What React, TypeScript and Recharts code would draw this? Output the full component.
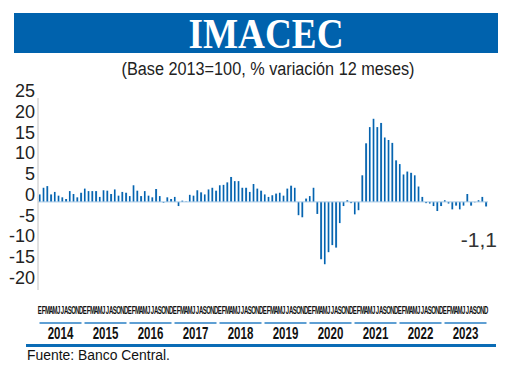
import React from 'react';
import { BarChart, Bar, XAxis, YAxis, ReferenceLine } from 'recharts';

const MONTHS = ['E', 'F', 'M', 'A', 'M', 'J', 'J', 'A', 'S', 'O', 'N', 'D'];
const YEARS = [2014, 2015, 2016, 2017, 2018, 2019, 2020, 2021, 2022, 2023];

// % variación 12 meses
const v2014 = [1.8, 3.4, 3.8, 1.8, 2.4, 1.5, 1.1, 0.7, 2.6, 1.9, 1.1, 2.2];
const v2015 = [3.2, 2.6, 2.6, 2.6, 1.2, 2.8, 2.7, 1.9, 3.0, 1.5, 2.4, 2.2];
const v2016 = [1.4, 4.0, 2.7, 1.4, 2.6, 1.5, 1.1, 3.1, 1.4, -0.2, 1.1, 0.7];
const v2017 = [1.2, -1.0, 0.3, 0.1, 1.7, 1.5, 2.8, 2.3, 1.8, 3.0, 3.4, 2.7];
const v2018 = [4.0, 4.1, 4.7, 6.0, 5.0, 5.0, 3.4, 3.4, 2.4, 4.3, 3.2, 2.7];
const v2019 = [1.8, 1.2, 1.6, 2.0, 2.2, 1.5, 3.2, 3.9, 3.4, -3.2, -3.7, 0.8];
const v2020 = [1.4, 3.4, -2.9, -13.8, -15.0, -12.1, -10.4, -11.0, -5.1, -1.0, 0.4, -0.3];
const v2021 = [-3.0, -2.0, 6.4, 14.1, 18.0, 20.0, 18.0, 19.0, 15.5, 14.9, 14.2, 10.0];
const v2022 = [9.1, 6.6, 7.3, 7.0, 6.4, 3.7, 1.2, -0.3, -0.4, -1.0, -2.2, -1.0];
const v2023 = [0.4, -0.4, -1.8, -0.9, -1.8, -0.9, 1.9, -0.9, -0.1, 0.4, 1.2, -1.1];

const SERIES = [v2014, v2015, v2016, v2017, v2018, v2019, v2020, v2021, v2022, v2023];
const Y_TICKS = [25, 20, 15, 10, 5, 0, -5, -10, -15, -20];

const data = YEARS.flatMap((yr, yi) =>
  SERIES[yi].map((v, mi) => ({ key: `${yr}-${mi}`, month: MONTHS[mi], year: yr, v }))
);

const W = 520;
const H = 366;
const PLOT_LEFT = 38;
const PLOT_RIGHT = 32;
const BAND = (W - PLOT_LEFT - PLOT_RIGHT) / data.length;

const last = data[data.length - 1].v;
const lastLabel = last.toFixed(1).replace('.', ',');

const YTick = (props: any) => {
  const { y, payload } = props;
  return (
    <text x={35} y={y - 1} textAnchor="end" fontSize={18} fill="#222"
      fontFamily="'Liberation Sans', Arial, sans-serif">
      {payload.value}
    </text>
  );
};

const MonthTick = (props: any) => {
  const { x, y, payload } = props;
  const idx = props.index ?? payload.index;
  const d = data[idx];
  if (!d) return null;
  const mi = idx % 12;
  return (
    <g>
      <text transform={`translate(${x},${y + 16}) scale(0.6,1)`} textAnchor="middle"
        fontSize={10} fontWeight="bold" fill="#111"
        fontFamily="'Liberation Sans Narrow', 'Liberation Sans', sans-serif">
        {d.month}
      </text>
      {mi === 0 && (
        <g>
          <line x1={x - BAND / 2 + 1.5} x2={x - BAND / 2 + 12 * BAND - 1.5}
            y1={y + 25} y2={y + 25} stroke="#2a7fc4" strokeWidth={1.5} />
          <text transform={`translate(${x + 5.5 * BAND},${y + 41}) scale(0.72,1)`}
            textAnchor="middle" fontSize={16} fontWeight="bold" fill="#111"
            fontFamily="'Liberation Sans Narrow', 'Liberation Sans', sans-serif">
            {d.year}
          </text>
        </g>
      )}
    </g>
  );
};

export default function App() {
  return (
    <div style={{ position: 'absolute', left: 0, top: 0, width: W, height: H, background: '#fff' }}>
      <BarChart width={W} height={H} data={data}
        margin={{ top: 98, right: PLOT_RIGHT, bottom: 16, left: 0 }}
        barCategoryGap="25%">
        <defs>
          <linearGradient id="barFill" x1="0" y1="0" x2="1" y2="0">
            <stop offset="0" stopColor="#035ca6" />
            <stop offset="0.65" stopColor="#0867b3" />
            <stop offset="0.72" stopColor="#4f9bd6" />
            <stop offset="1" stopColor="#86bfe8" />
          </linearGradient>
        </defs>
        <XAxis dataKey="key" height={60} interval={0} axisLine={false} tickLine={false}
          tick={<MonthTick />} />
        <YAxis width={PLOT_LEFT} domain={[-21.2, 25]} ticks={Y_TICKS} interval={0} allowDataOverflow
          axisLine={{ stroke: '#c4c4c4' }} tickLine={false} tick={<YTick />} />
        <ReferenceLine y={0} stroke="#a7c9e6" strokeWidth={1} />
        <Bar dataKey="v" fill="url(#barFill)" isAnimationActive={false} />
      </BarChart>
      <svg width={W} height={H} style={{ position: 'absolute', left: 0, top: 0, pointerEvents: 'none' }}>
        <rect x={14} y={13} width={484} height={40} fill="#0062ad" />
        <text x={266} y={48} textAnchor="middle" fontSize={42} fontWeight="bold" fill="#fff"
          textLength={155} lengthAdjust="spacingAndGlyphs"
          fontFamily="'Liberation Serif', serif">IMACEC</text>
        <text x={268} y={75} textAnchor="middle" fontSize={18} fill="#222"
          textLength={293} lengthAdjust="spacingAndGlyphs"
          fontFamily="'Liberation Sans Narrow', 'Liberation Sans', sans-serif">
          (Base 2013=100, % variación 12 meses)
        </text>
        <text x={497} y={247} textAnchor="end" fontSize={21} fill="#333"
          fontFamily="'Liberation Sans', Arial, sans-serif">{lastLabel}</text>
        <rect x={26} y={344} width={470} height={3} fill="#0a6cb6" />
        <text x={27} y={360} fontSize={14} fill="#111" textLength={143} lengthAdjust="spacingAndGlyphs"
          fontFamily="'Liberation Sans', Arial, sans-serif">Fuente: Banco Central.</text>
      </svg>
    </div>
  );
}
